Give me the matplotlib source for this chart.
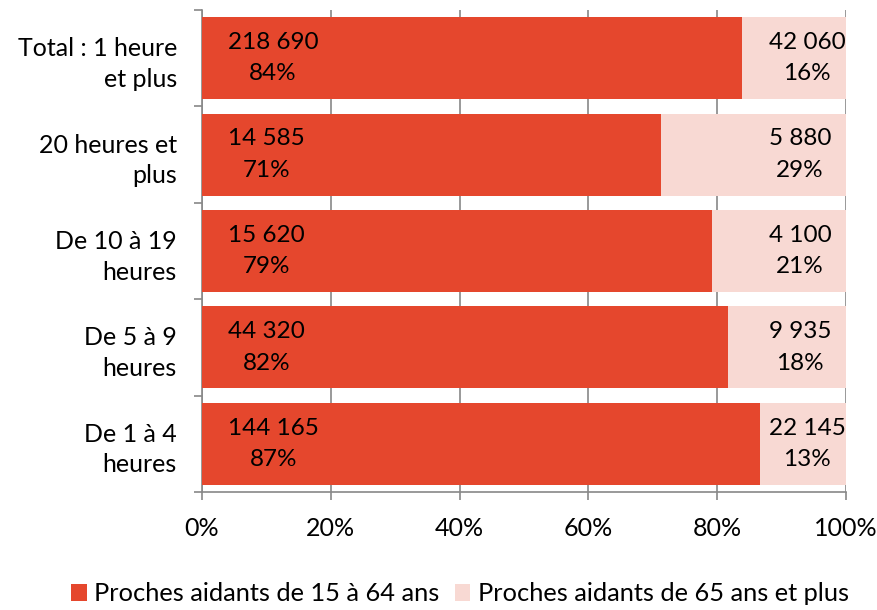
import matplotlib
matplotlib.use("Agg")
import matplotlib.pyplot as plt
import numpy as np

categories = ["Total : 1 heure\net plus", "20 heures et\nplus", "De 10 à 19\nheures", "De 5 à 9\nheures", "De 1 à 4\nheures"]
young = [218690, 14585, 15620, 44320, 144165]
old = [42060, 5880, 4100, 9935, 22145]
series_names = ["Proches aidants de 15 à 64 ans", "Proches aidants de 65 ans et plus"]
xticklabels = ["0%", "20%", "40%", "60%", "80%", "100%"]

def fmt(n):
    return f"{n:,}".replace(",", " ")

plt.rcParams['font.family'] = ['Lato', 'DejaVu Sans']
RED = "#E5472D"
PINK = "#F8D9D3"

fig = plt.figure(figsize=(8.78, 6.10), dpi=100)
ax = fig.add_axes([202/878, 1-492/610, 644/878, 482/610])

young = np.array(young, float)
old = np.array(old, float)
tot = young + old
py = young / tot * 100
po = old / tot * 100
y = np.arange(len(categories))[::-1]

ax.barh(y, py, height=0.85, color=RED, zorder=3, label=series_names[0])
ax.barh(y, po, left=py, height=0.85, color=PINK, zorder=3, label=series_names[1])

fs = 17.5
for yi, v1, v2, p1, p2 in zip(y, young, old, py, po):
    ax.text(4, yi, f"{fmt(int(v1))}\n{round(p1):.0f}%", ha="left", va="center",
            multialignment="center", fontsize=fs, zorder=4, linespacing=1.6)
    ax.text(88, yi, f"{fmt(int(v2))}\n{round(p2):.0f}%", ha="left", va="center",
            multialignment="center", fontsize=fs, zorder=4, linespacing=1.6)

ax.set_xlim(0, 100)
ax.set_ylim(-0.5, len(categories) - 0.5)
ax.set_xticks(np.arange(0, 101, 20))
ax.set_xticklabels(xticklabels, fontsize=18)
ax.set_yticks(y)
ax.set_yticklabels(categories, fontsize=18, multialignment="right", linespacing=1.4)
ax.set_yticks(np.arange(-0.5, len(categories), 1), minor=True)
ax.tick_params(axis='y', which='major', length=0, pad=18)
ax.tick_params(axis='y', which='minor', length=6, color="#888888", width=1.2)
ax.tick_params(axis='x', which='major', length=6, color="#888888", width=1.2, pad=12)
ax.grid(axis='x', color="#888888", linewidth=1.2, zorder=0)
for s in ["top", "right"]:
    ax.spines[s].set_visible(False)
for s in ["left", "bottom"]:
    ax.spines[s].set_color("#888888")
    ax.spines[s].set_linewidth(1.2)

fig.legend(loc="lower center", bbox_to_anchor=(0.524, -0.03), ncol=2, frameon=False,
           fontsize=18.3, handlelength=0.6, handleheight=0.7, handletextpad=0.3, columnspacing=0.6)

fig.savefig("out.png", dpi=100)
